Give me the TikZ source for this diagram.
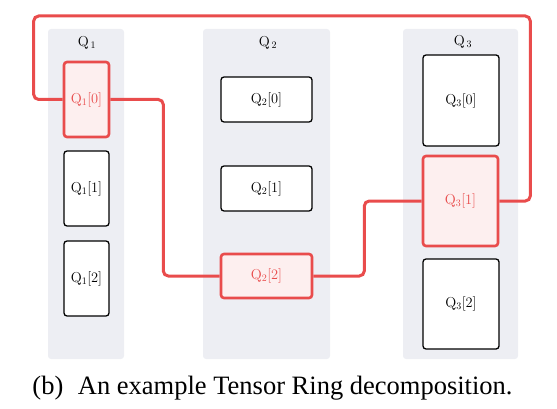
\documentclass[tikz,border=0pt]{standalone}
\usepackage[no-math]{fontspec}
\newfontfamily\capfont{Liberation Serif}
\definecolor{ringred}{RGB}{233,76,76}
\definecolor{ringfill}{RGB}{253,239,239}
\definecolor{panelgray}{RGB}{237,238,243}
\begin{document}
\begin{tikzpicture}[x=1pt,y=-1pt,
    panel/.style={fill=panelgray,rounded corners=3pt,inner sep=0pt,minimum height=330pt},
    core/.style={draw=black,line width=1.3pt,fill=white,rounded corners=3pt,inner sep=0pt,font=\fontsize{14}{16}\selectfont},
    hot/.style={core,draw=ringred,line width=2.6pt,fill=ringfill,text=ringred},
    ring/.style={ringred,line width=3pt,rounded corners=5pt}]
    \useasboundingbox (0,0) rectangle (557,409);
    %% Panels
    \node[panel,minimum width=76pt] (P1) at (86,194) {};
    \node[panel,minimum width=127pt] (P2) at (266.5,194) {};
    \node[panel,minimum width=115pt] (P3) at (460.5,194) {};
    \node[font=\fontsize{14}{16}\selectfont] (H1) at (87,43) {$\mathrm{Q}_{\,1}$};
    \node[font=\fontsize{14}{16}\selectfont] (H2) at (268,43) {$\mathrm{Q}_{\,2}$};
    \node[font=\fontsize{14}{16}\selectfont] (H3) at (463,42) {$\mathrm{Q}_{\,3}$};
    %% Cores
    \node[hot,minimum width=45pt,minimum height=75pt] (Q10) at (86.5,99.5) {$\mathrm{Q}_1[0]$};
    \node[core,minimum width=45pt,minimum height=75pt] (Q11) at (86.5,188.5) {$\mathrm{Q}_1[1]$};
    \node[core,minimum width=45pt,minimum height=75pt] (Q12) at (86.5,278.5) {$\mathrm{Q}_1[2]$};
    \node[core,minimum width=91pt,minimum height=45pt] (Q20) at (266.5,99.5) {$\mathrm{Q}_2[0]$};
    \node[core,minimum width=91pt,minimum height=45pt] (Q21) at (266.5,188.5) {$\mathrm{Q}_2[1]$};
    \node[hot,minimum width=91pt,minimum height=44pt] (Q22) at (266.5,276) {$\mathrm{Q}_2[2]$};
    \node[core,minimum width=76pt,minimum height=91pt] (Q30) at (461,100.5) {$\mathrm{Q}_3[0]$};
    \node[hot,minimum width=75pt,minimum height=90pt] (Q31) at (460.5,201) {$\mathrm{Q}_3[1]$};
    \node[core,minimum width=76pt,minimum height=90pt] (Q32) at (461,304) {$\mathrm{Q}_3[2]$};
    %% Ring
    \draw[ring] (Q10.east) -- ++(53,0) |- (Q22.west);
    \draw[ring] (Q22.east) -- ++(51,0) |- (Q31.west);
    \draw[ring] (Q31.east) -- ++(31,0) -- ++(0,-185) -| ([xshift=-29pt]Q10.west) -- (Q10.west);
    %% Caption
    \node[anchor=base,font=\capfont\fontsize{26.5}{30}\selectfont] (cap) at (272.5,394) {(b)\hspace{0.3em} An example Tensor Ring decomposition.};
\end{tikzpicture}
\end{document}
